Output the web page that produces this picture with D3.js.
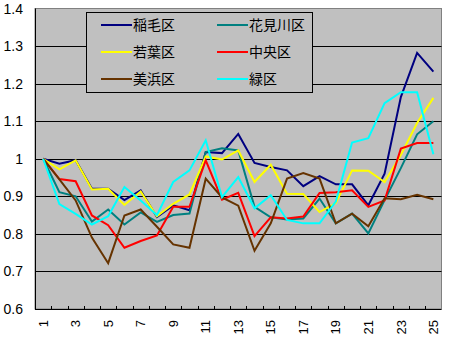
<!DOCTYPE html>
<html>
<head>
<meta charset="utf-8">
<script src="https://cdn.jsdelivr.net/npm/d3@7"></script>
<style>
  html, body { margin: 0; padding: 0; background: #fff; }
  svg { display: block; }
</style>
</head>
<body>
<svg id="chart" width="449" height="337"></svg>
<script>
// Period index along the horizontal axis
const categories = [1,2,3,4,5,6,7,8,9,10,11,12,13,14,15,16,17,18,19,20,21,22,23,24,25];
const xTickLabels = ["1","3","5","7","9","11","13","15","17","19","21","23","25"];
const yTicks = [0.6,0.7,0.8,0.9,1.0,1.1,1.2,1.3,1.4];
const yTickLabels = ["0.6","0.7","0.8","0.9","1","1.1","1.2","1.3","1.4"];

// Ward names and their line colours
const wards = ["稲毛区","花見川区","若葉区","中央区","美浜区","緑区"];
const colors = ["#000080","#008080","#FFFF00","#FF0000","#663300","#00FFFF"];

// Index values per ward (first period = 1)
const inage     = [1.000,0.987,0.996,0.920,0.920,0.890,0.916,0.845,0.876,0.863,1.018,1.015,1.066,0.989,0.978,0.969,0.927,0.954,0.932,0.932,0.876,0.960,1.164,1.282,1.232];
const hanamigawa= [1.000,0.911,0.900,0.833,0.865,0.825,0.857,0.832,0.850,0.854,1.018,1.028,1.022,0.872,0.844,0.838,0.841,0.894,0.828,0.854,0.801,0.890,0.975,1.065,1.100];
const wakaba    = [1.000,0.972,0.996,0.918,0.920,0.877,0.913,0.847,0.880,0.905,1.006,0.998,1.022,0.938,0.984,0.907,0.906,0.858,0.882,0.969,0.968,0.938,1.010,1.095,1.162];
const chuo      = [1.000,0.946,0.940,0.849,0.823,0.763,0.781,0.796,0.872,0.872,0.996,0.891,0.909,0.794,0.844,0.841,0.846,0.909,0.911,0.916,0.872,0.889,1.027,1.042,1.042];
const mihama    = [1.000,0.945,0.889,0.790,0.722,0.849,0.865,0.819,0.772,0.763,0.947,0.897,0.875,0.755,0.828,0.947,0.962,0.947,0.828,0.854,0.820,0.895,0.892,0.904,0.892];
const midori    = [1.000,0.879,0.853,0.825,0.847,0.925,0.889,0.850,0.938,0.969,1.049,0.898,0.951,0.868,0.903,0.837,0.828,0.828,0.886,1.043,1.055,1.148,1.177,1.177,1.012];
const seriesValues = [inage, hanamigawa, wakaba, chuo, mihama, midori];

const svg = d3.select("#chart");
const plot = { left: 35, right: 441.5, top: 8.5, bottom: 309 };

const x = d3.scaleBand().domain(categories).range([plot.left, plot.right]).padding(0);
const y = d3.scaleLinear().domain([0.6, 1.4]).range([plot.bottom, plot.top]);
const cx = c => x(c) + x.bandwidth() / 2;

// Plot area background
svg.append("rect")
  .attr("x", plot.left).attr("y", plot.top)
  .attr("width", plot.right - plot.left).attr("height", plot.bottom - plot.top)
  .attr("fill", "#C0C0C0").attr("stroke", "#808080").attr("stroke-width", 1);

// Horizontal gridlines
svg.append("g").selectAll("line")
  .data(yTicks.filter(v => v > 0.6 && v < 1.4))
  .join("line")
  .attr("x1", plot.left).attr("x2", plot.right)
  .attr("y1", d => Math.round(y(d)) + 0.5).attr("y2", d => Math.round(y(d)) + 0.5)
  .attr("stroke", "#000").attr("stroke-width", 1);

// Y axis labels
svg.append("g").selectAll("text")
  .data(yTicks)
  .join("text")
  .attr("x", 23).attr("y", d => y(d))
  .attr("dy", "0.36em")
  .attr("text-anchor", "end")
  .attr("font-family", "Liberation Sans, Arial, sans-serif")
  .attr("font-size", 14)
  .text((d, i) => yTickLabels[i]);

// Axis lines
svg.append("line")
  .attr("x1", plot.left + 0.5).attr("x2", plot.left + 0.5)
  .attr("y1", plot.top).attr("y2", plot.bottom)
  .attr("stroke", "#000");
svg.append("line")
  .attr("x1", plot.left).attr("x2", plot.right)
  .attr("y1", plot.bottom + 0.5).attr("y2", plot.bottom + 0.5)
  .attr("stroke", "#000");

// Category boundary tick marks (pointing into the plot)
const boundaries = categories.map(c => x(c)).concat([x(categories[categories.length - 1]) + x.bandwidth()]);
svg.append("g").selectAll("line")
  .data(boundaries.slice(1, -1))
  .join("line")
  .attr("x1", d => Math.round(d) + 0.5).attr("x2", d => Math.round(d) + 0.5)
  .attr("y1", plot.bottom - 3).attr("y2", plot.bottom)
  .attr("stroke", "#000");

// Rotated category labels
svg.append("g").selectAll("text")
  .data(xTickLabels)
  .join("text")
  .attr("transform", d => `translate(${cx(+d)},320) rotate(-90)`)
  .attr("dy", "0.36em")
  .attr("text-anchor", "end")
  .attr("font-family", "Liberation Sans, Arial, sans-serif")
  .attr("font-size", 13)
  .text(d => d);

// Series lines
const line = d3.line().x((d, i) => cx(categories[i])).y(d => y(d));
svg.append("g").selectAll("path")
  .data(seriesValues)
  .join("path")
  .attr("d", d => line(d))
  .attr("fill", "none")
  .attr("stroke", (d, i) => colors[i])
  .attr("stroke-width", 2)
  .attr("stroke-linejoin", "miter");

// Legend
const legend = svg.append("g");
legend.append("rect")
  .attr("x", 86.5).attr("y", 12.5).attr("width", 226).attr("height", 80)
  .attr("fill", "#C0C0C0").attr("stroke", "#000").attr("stroke-width", 1);
const legendItems = legend.selectAll("g.item")
  .data(wards)
  .join("g")
  .attr("class", "item")
  .attr("transform", (d, i) => `translate(${i % 2 === 0 ? 101 : 217},${25 + Math.floor(i / 2) * 27})`);
legendItems.append("line")
  .attr("x1", 0).attr("x2", 31).attr("y1", 0).attr("y2", 0)
  .attr("stroke", (d, i) => colors[i]).attr("stroke-width", 2);
legendItems.append("text")
  .attr("x", 32).attr("y", 0).attr("dy", "0.36em")
  .attr("font-family", "Noto Sans CJK JP, sans-serif")
  .attr("font-size", 14)
  .text(d => d);
</script>
</body>
</html>
